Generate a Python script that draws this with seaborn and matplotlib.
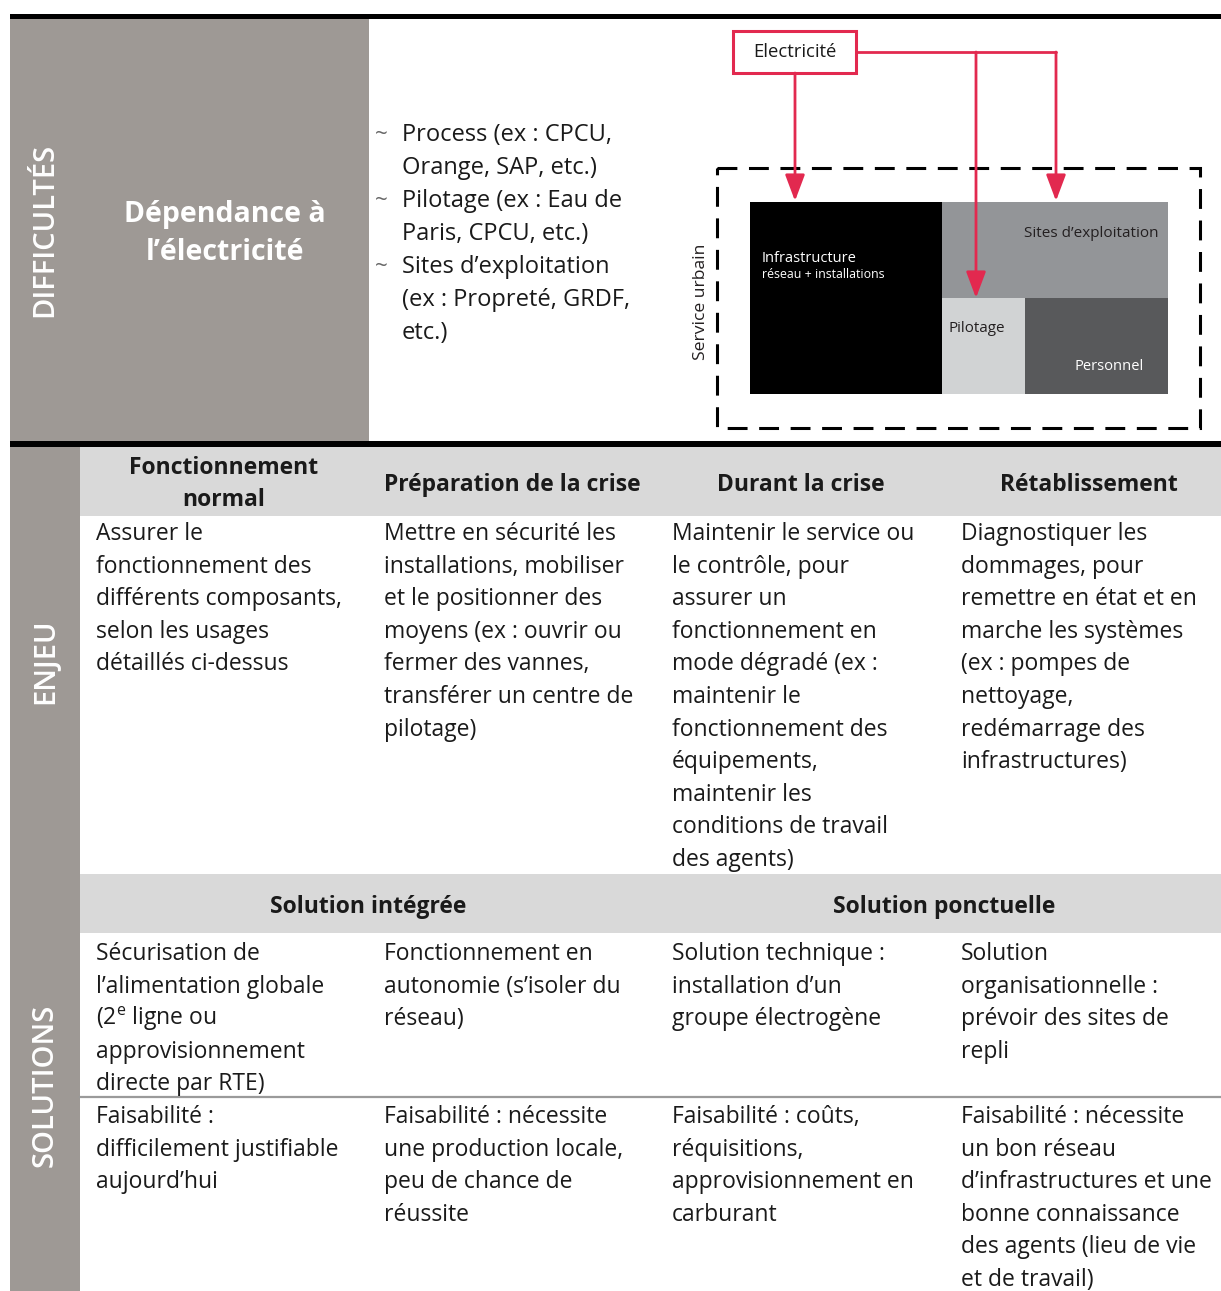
import matplotlib
matplotlib.use("Agg")
import matplotlib.pyplot as plt
import seaborn as sns
from matplotlib.patches import Rectangle

sns.set_theme(style="white")
plt.rcParams['font.family'] = ['Open Sans', 'DejaVu Sans']
plt.rcParams['mathtext.fontset'] = 'custom'
plt.rcParams['mathtext.rm'] = 'Open Sans'

# ---- content ----
section_labels = ["DIFFICULTÉS", "ENJEU", "SOLUTIONS"]
difficulty_title = ["Dépendance à", "l’électricité"]
difficulty_items = [
    ["Process (ex : CPCU,", "Orange, SAP, etc.)"],
    ["Pilotage (ex : Eau de", "Paris, CPCU, etc.)"],
    ["Sites d’exploitation", "(ex : Propreté, GRDF,", "etc.)"],
]
phase_headers = [["Fonctionnement", "normal"], ["Préparation de la crise"],
                 ["Durant la crise"], ["Rétablissement"]]
enjeu_texts = [
    ["Assurer le", "fonctionnement des", "différents composants,", "selon les usages",
     "détaillés ci-dessus"],
    ["Mettre en sécurité les", "installations, mobiliser", "et le positionner des",
     "moyens (ex : ouvrir ou", "fermer des vannes,", "transférer un centre de", "pilotage)"],
    ["Maintenir le service ou", "le contrôle, pour", "assurer un", "fonctionnement en",
     "mode dégradé (ex :", "maintenir le", "fonctionnement des", "équipements,",
     "maintenir les", "conditions de travail", "des agents)"],
    ["Diagnostiquer les", "dommages, pour", "remettre en état et en", "marche les systèmes",
     "(ex : pompes de", "nettoyage,", "redémarrage des", "infrastructures)"],
]
solution_headers = ["Solution intégrée", "Solution ponctuelle"]
solution_texts = [
    ["Sécurisation de", "l’alimentation globale", "(2$^{\\mathrm{e}}$ ligne ou",
     "approvisionnement", "directe par RTE)"],
    ["Fonctionnement en", "autonomie (s’isoler du", "réseau)"],
    ["Solution technique :", "installation d’un", "groupe électrogène"],
    ["Solution", "organisationnelle :", "prévoir des sites de", "repli"],
]
feasibility_texts = [
    ["Faisabilité :", "difficilement justifiable", "aujourd’hui"],
    ["Faisabilité : nécessite", "une production locale,", "peu de chance de", "réussite"],
    ["Faisabilité : coûts,", "réquisitions,", "approvisionnement en", "carburant"],
    ["Faisabilité : nécessite", "un bon réseau", "d’infrastructures et une",
     "bonne connaissance", "des agents (lieu de vie", "et de travail)"],
]
source_label = "Electricité"
service_label = "Service urbain"
block_labels = ["Infrastructure", "réseau + installations", "Sites d’exploitation",
                "Pilotage", "Personnel"]

# ---- style ----
GRAY = "#9e9995"
LIGHT = "#d9d9d9"
RED = "#e2294f"
TXT = "#1a1a1a"
BODY = 16.5
LINE_H = 32.6

fig = plt.figure(figsize=(12.21, 12.91), dpi=100)
ax = fig.add_axes([0, 0, 1, 1])
ax.set_xlim(0, 1221)
ax.set_ylim(1291, 0)
ax.axis('off')

col_left = [80, 368, 656, 945]
col_right = [368, 656, 945, 1233]


def block(x0, y0, x1, y1, color, **kw):
    ax.add_patch(Rectangle((x0, y0), x1 - x0, y1 - y0, facecolor=color,
                           edgecolor='none', **kw))


def lines_at(lines, x, y0, size=BODY, step=LINE_H, **kw):
    for i, s in enumerate(lines):
        ax.text(x, y0 + i * step, s, fontsize=size, va='baseline', color=TXT, **kw)


# background blocks and rules
block(10, 18, 369, 441, GRAY)
block(10, 446, 80, 1291, GRAY)
block(80, 447, 1221, 516, LIGHT)
block(80, 874, 1221, 933, LIGHT)
block(10, 14, 1221, 19, "black")
block(10, 441, 1221, 447, "black")
ax.plot([80, 1221], [1097, 1097], color="#9a9a9a", lw=1.6)

# section labels
for lab, yc in zip(section_labels, [230, 661, 1085]):
    ax.text(45, yc, lab, rotation=90, fontsize=21, color="white", fontweight='semibold',
            ha='center', va='center')

# difficulty block
for i, s in enumerate(difficulty_title):
    ax.text(225, 222 + i * 38, s, fontsize=20.5, color="white", fontweight='bold',
            ha='center', va='baseline')

y = 141
for item in difficulty_items:
    ax.text(381, y - 6, "~", fontsize=16, color="#666666", ha='center', va='center')
    for s in item:
        ax.text(402, y, s, fontsize=17, color=TXT, va='baseline')
        y += 33

# diagram
block(750, 202, 942, 394, "black")
block(942, 202, 1168, 298, "#939598")
block(942, 298, 1025, 394, "#d1d3d4")
block(1025, 298, 1168, 394, "#58595b")
ax.add_patch(Rectangle((717, 168), 483, 260, facecolor='none', edgecolor='black',
                       lw=2.2, linestyle=(0, (6.5, 3.8))))
ax.add_patch(Rectangle((733, 31), 123, 42, facecolor='white', edgecolor=RED, lw=2.2))
ax.text(795, 52, source_label, fontsize=13.3, color=TXT, ha='center', va='center')
ax.plot([856, 1056], [52, 52], color=RED, lw=2)
arrow = dict(arrowstyle="-|>,head_length=1.6,head_width=0.6", color=RED, lw=2,
             shrinkA=0, shrinkB=0, mutation_scale=10)
ax.annotate("", xy=(795, 201), xytext=(795, 73), arrowprops=arrow)
ax.annotate("", xy=(976, 298), xytext=(976, 52), arrowprops=arrow)
ax.annotate("", xy=(1056, 201), xytext=(1056, 52), arrowprops=arrow)

ax.text(762, 262, block_labels[0], fontsize=10.5, color="white", va='baseline')
ax.text(762, 278, block_labels[1], fontsize=8.9, color="white", va='baseline')
ax.text(1158, 237, block_labels[2], fontsize=11, color="#231f20", ha='right', va='baseline')
ax.text(949, 332, block_labels[3], fontsize=10.9, color="#231f20", va='baseline')
ax.text(1075, 370, block_labels[4], fontsize=10.6, color="white", va='baseline')
ax.text(701, 302, service_label, fontsize=12.6, color="#231f20", rotation=90,
        ha='center', va='center')

# phase headers
for l, r, hdr in zip(col_left, col_right, phase_headers):
    xc = (l + r) / 2
    if len(hdr) == 2:
        ys = [474, 506]
    else:
        ys = [491]
    for s, yy in zip(hdr, ys):
        ax.text(xc, yy, s, fontsize=BODY, fontweight='bold', color=TXT,
                ha='center', va='baseline')

for l, txt in zip(col_left, enjeu_texts):
    lines_at(txt, l + 16, 540)

# solutions
ax.text((col_left[0] + col_right[1]) / 2, 913, solution_headers[0], fontsize=BODY,
        fontweight='bold', color=TXT, ha='center', va='baseline')
ax.text((col_left[2] + col_right[3]) / 2, 913, solution_headers[1], fontsize=BODY,
        fontweight='bold', color=TXT, ha='center', va='baseline')

for l, txt in zip(col_left, solution_texts):
    lines_at(txt, l + 16, 960)
for l, txt in zip(col_left, feasibility_texts):
    lines_at(txt, l + 16, 1123)

fig.savefig("out.png", dpi=100)
